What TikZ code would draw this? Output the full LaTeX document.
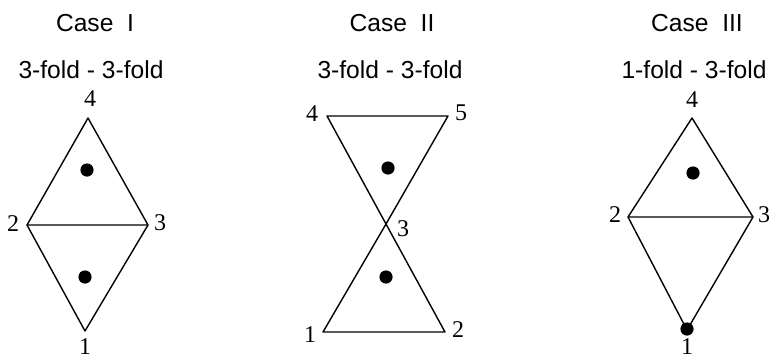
\documentclass[tikz,border=0pt]{standalone}
\usepackage{fontspec}
\setmainfont{Liberation Serif}
\newfontfamily\headfont{Liberation Sans}
\usetikzlibrary{positioning}

\begin{document}
\begin{tikzpicture}[
    x=0.5pt, y=-0.5pt,
    edge/.style={draw=black, line width=0.7pt, line join=round},
    dotnode/.style={circle, fill=black, inner sep=0pt, minimum size=6.6pt},
    vlabel/.style={inner sep=0pt, font=\fontsize{12}{14}\selectfont},
    htext/.style={inner sep=0pt, font=\headfont\fontsize{12.3}{14}\selectfont},
  ]
  \useasboundingbox (0,0) rectangle (770,359);

  % headings
  \node[htext] (caseA) at (95,23)  {Case~~I};
  \node[htext] (caseB) at (392,23) {Case~~II};
  \node[htext] (caseC) at (697,23) {Case~~III};
  \node[htext] (foldA) at (91,70)  {3-fold - 3-fold};
  \node[htext] (foldB) at (390,70) {3-fold - 3-fold};
  \node[htext] (foldC) at (694,70) {1-fold - 3-fold};

  % Case I
  \coordinate (a4) at (88,118);
  \coordinate (a2) at (27,225);
  \coordinate (a3) at (148,225);
  \coordinate (a1) at (85,331);
  \draw[edge] (a4) -- (a2) -- (a3) -- cycle;
  \draw[edge] (a2) -- (a1) -- (a3);
  \node[dotnode] (adotup) at (87,170) {};
  \node[dotnode] (adotlo) at (85,277) {};
  \node[vlabel] (al4) at (90,99)  {4};
  \node[vlabel] (al2) at (13,224) {2};
  \node[vlabel] (al3) at (160,223) {3};
  \node[vlabel] (al1) at (85,347) {1};

  % Case II
  \coordinate (b4) at (327,116);
  \coordinate (b5) at (448,116);
  \coordinate (b3) at (386,224);
  \coordinate (b1) at (323,332);
  \coordinate (b2) at (445,332);
  \draw[edge] (b4) -- (b5) -- (b3) -- cycle;
  \draw[edge] (b3) -- (b1) -- (b2) -- cycle;
  \node[dotnode] (bdotup) at (388,168) {};
  \node[dotnode] (bdotlo) at (386,277) {};
  \node[vlabel] (bl4) at (312,114) {4};
  \node[vlabel] (bl5) at (461,113) {5};
  \node[vlabel] (bl3) at (403,229) {3};
  \node[vlabel] (bl1) at (310,335) {1};
  \node[vlabel] (bl2) at (458,330) {2};

  % Case III
  \coordinate (c4) at (692,118);
  \coordinate (c2) at (628,217);
  \coordinate (c3) at (753,217);
  \coordinate (c1) at (687,330);
  \draw[edge] (c4) -- (c2) -- (c3) -- cycle;
  \draw[edge] (c2) -- (c1) -- (c3);
  \node[dotnode] (cdotup) at (693,173) {};
  \node[dotnode] (cdotlo) at (687,329) {};
  \node[vlabel] (cl4) at (692,100) {4};
  \node[vlabel] (cl2) at (615,215) {2};
  \node[vlabel] (cl3) at (764,215) {3};
  \node[vlabel] (cl1) at (687,347) {1};
\end{tikzpicture}
\end{document}
